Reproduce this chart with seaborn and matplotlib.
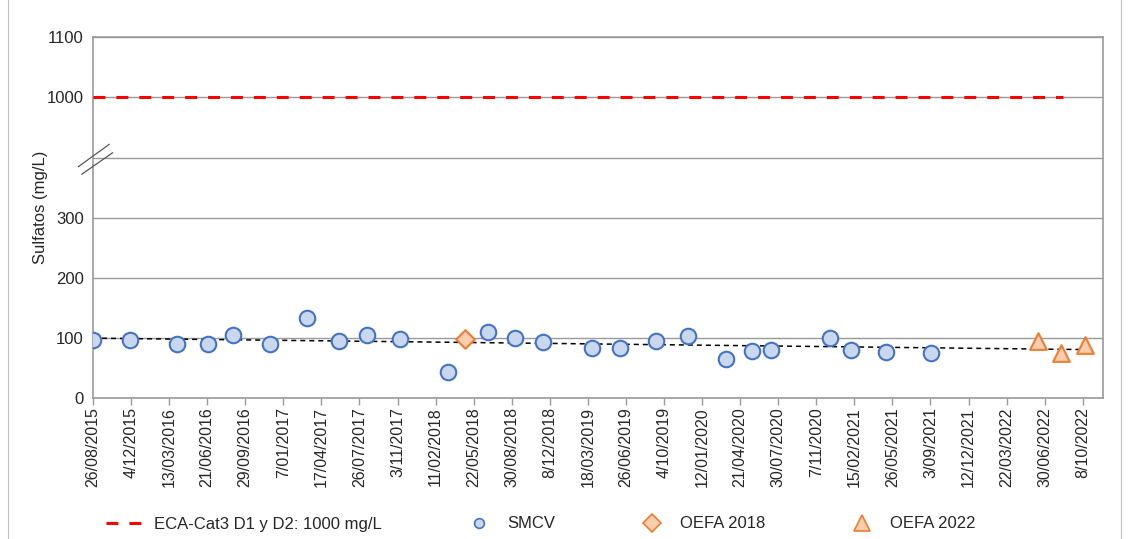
import numpy as np
import pandas as pd
import seaborn as sns
import matplotlib.pyplot as plt
import matplotlib.dates as mdates
from matplotlib.ticker import FuncFormatter
from matplotlib.lines import Line2D
from matplotlib.patches import Rectangle

# Datos
smcv_fechas = ['2015-08-26', '2015-12-02', '2016-04-02', '2016-06-24', '2016-08-27',
               '2016-12-03', '2017-03-10', '2017-06-02', '2017-08-14', '2017-11-10',
               '2018-03-16', '2018-06-29', '2018-09-07', '2018-11-19', '2019-03-30',
               '2019-06-10', '2019-09-12', '2019-12-05', '2020-03-14', '2020-05-22',
               '2020-07-12', '2020-12-13', '2021-02-05', '2021-05-08', '2021-09-05']
smcv_sulfatos = [97, 97, 90, 91, 106, 90, 133, 96, 106, 98,
                 44, 110, 101, 93, 84, 84, 96, 103, 66, 79,
                 81, 100, 81, 77, 76]

oefa2018_fechas = ['2018-04-29']
oefa2018_sulfatos = [98]

oefa2022_fechas = ['2022-06-12', '2022-08-12', '2022-10-15']
oefa2022_sulfatos = [95, 75, 88]

eca_fechas = ['2015-08-26', '2022-08-16']
eca_valor = [1000, 1000]

tendencia_fechas = ['2015-08-26', '2022-10-15']
tendencia_valores = [100, 81]

ticks_x = pd.date_range('2015-08-26', '2022-10-08', freq='100D')
ticks_y = [0, 100, 200, 300, 400, 1000, 1100]
etiquetas_y = ['0', '100', '200', '300', '', '1000', '1100']

df_smcv = pd.DataFrame({'fecha': pd.to_datetime(smcv_fechas), 'sulfatos': smcv_sulfatos})
df_2018 = pd.DataFrame({'fecha': pd.to_datetime(oefa2018_fechas), 'sulfatos': oefa2018_sulfatos})
df_2022 = pd.DataFrame({'fecha': pd.to_datetime(oefa2022_fechas), 'sulfatos': oefa2022_sulfatos})

sns.set_style('white')
plt.rcParams['font.family'] = ['Liberation Sans', 'DejaVu Sans']

azul, azul_claro = '#4472C4', '#C9D8EF'
naranja, naranja_claro = '#ED7D31', '#F9CDAE'
gris = '#9A9A9A'
texto = '#262626'

fig = plt.figure(figsize=(11.31, 5.39), dpi=100)
ax = fig.add_axes([0.0822, 0.261, 0.8930, 0.6703])


# eje y con corte entre 400 y 900
def adelante(v):
    v = np.asarray(v, dtype=float)
    return np.where(v <= 400, v, np.where(v >= 900, v - 499.5, 400 + (v - 400) * 0.001))


def inversa(u):
    u = np.asarray(u, dtype=float)
    return np.where(u <= 400, u, np.where(u >= 400.5, u + 499.5, 400 + (u - 400) * 1000))


ax.set_yscale('function', functions=(adelante, inversa))

ax.plot(pd.to_datetime(eca_fechas), eca_valor, color='#FF0000', lw=2.2,
        dashes=(3.9, 3.6), zorder=3)
ax.plot(pd.to_datetime(tendencia_fechas), tendencia_valores, color='black', lw=1.1,
        dashes=(3.3, 2.6), zorder=3)

sns.scatterplot(data=df_smcv, x='fecha', y='sulfatos', ax=ax, marker='o', s=125,
                color=azul_claro, edgecolor=azul, linewidth=1.5, zorder=4)
sns.scatterplot(data=df_2018, x='fecha', y='sulfatos', ax=ax, marker='D', s=90,
                color=naranja_claro, edgecolor=naranja, linewidth=1.5, zorder=4)
sns.scatterplot(data=df_2022, x='fecha', y='sulfatos', ax=ax, marker='^', s=145,
                color=naranja_claro, edgecolor=naranja, linewidth=1.5, zorder=4)

ax.set_ylim(0, 1100)
ax.set_yticks(ticks_y)
ax.set_yticklabels(etiquetas_y)
ax.set_xlim(pd.Timestamp('2015-08-26'), pd.Timestamp('2022-11-30'))
ax.set_xticks(ticks_x)


def fmt_fecha(x, pos):
    d = mdates.num2date(x)
    return f'{d.day}/{d.month:02d}/{d.year}'


ax.xaxis.set_major_formatter(FuncFormatter(fmt_fecha))
ax.tick_params(axis='x', rotation=90, labelsize=11.5, length=5, width=1, color=gris,
               labelcolor=texto, pad=1.5, direction='out', bottom=True)
ax.tick_params(axis='y', labelsize=12, length=0, pad=6.5, labelcolor=texto)
ax.grid(axis='y', color=gris, lw=1.0)
ax.grid(axis='x', visible=False)
ax.set_axisbelow(True)
for sp in ax.spines.values():
    sp.set_color(gris)
    sp.set_linewidth(1.2)

ax.set_xlabel('')
ax.set_ylabel('Sulfatos (mg/L)', fontsize=12, color=texto)
ax.yaxis.set_label_coords(-0.045, 0.53)

# marcas de corte //
W, H = 1131, 539
for (x0, y0, x1, y1) in [(78.3, 166.7, 109.3, 144.3), (81.7, 174.3, 112.7, 152.7)]:
    fig.add_artist(Line2D([x0 / W, x1 / W], [1 - y0 / H, 1 - y1 / H],
                          transform=fig.transFigure, color='#555555', lw=0.9))

# borde del area del grafico
fig.add_artist(Rectangle((8 / W, -0.01), (1121 - 8) / W, 1.02, transform=fig.transFigure,
                         fill=False, edgecolor='#BFBFBF', lw=0.8))

handles = [
    Line2D([], [], color='#FF0000', lw=2.2, dashes=(3.9, 3.6)),
    Line2D([], [], ls='none', marker='o', markersize=7, markerfacecolor=azul_claro,
           markeredgecolor=azul, markeredgewidth=1.2),
    Line2D([], [], ls='none', marker='D', markersize=9, markerfacecolor=naranja_claro,
           markeredgecolor=naranja, markeredgewidth=1.2),
    Line2D([], [], ls='none', marker='^', markersize=11, markerfacecolor=naranja_claro,
           markeredgecolor=naranja, markeredgewidth=1.2),
]
labels = ['ECA-Cat3 D1 y D2: 1000 mg/L', 'SMCV', 'OEFA 2018', 'OEFA 2022']
leg = fig.legend(handles, labels, loc='center', bbox_to_anchor=(541 / W, 1 - 524 / H),
                 ncol=4, frameon=False, fontsize=12, handlelength=2.4, handletextpad=0.5,
                 columnspacing=4.6)
for t in leg.get_texts():
    t.set_color(texto)

fig.savefig('out.png', dpi=100)
